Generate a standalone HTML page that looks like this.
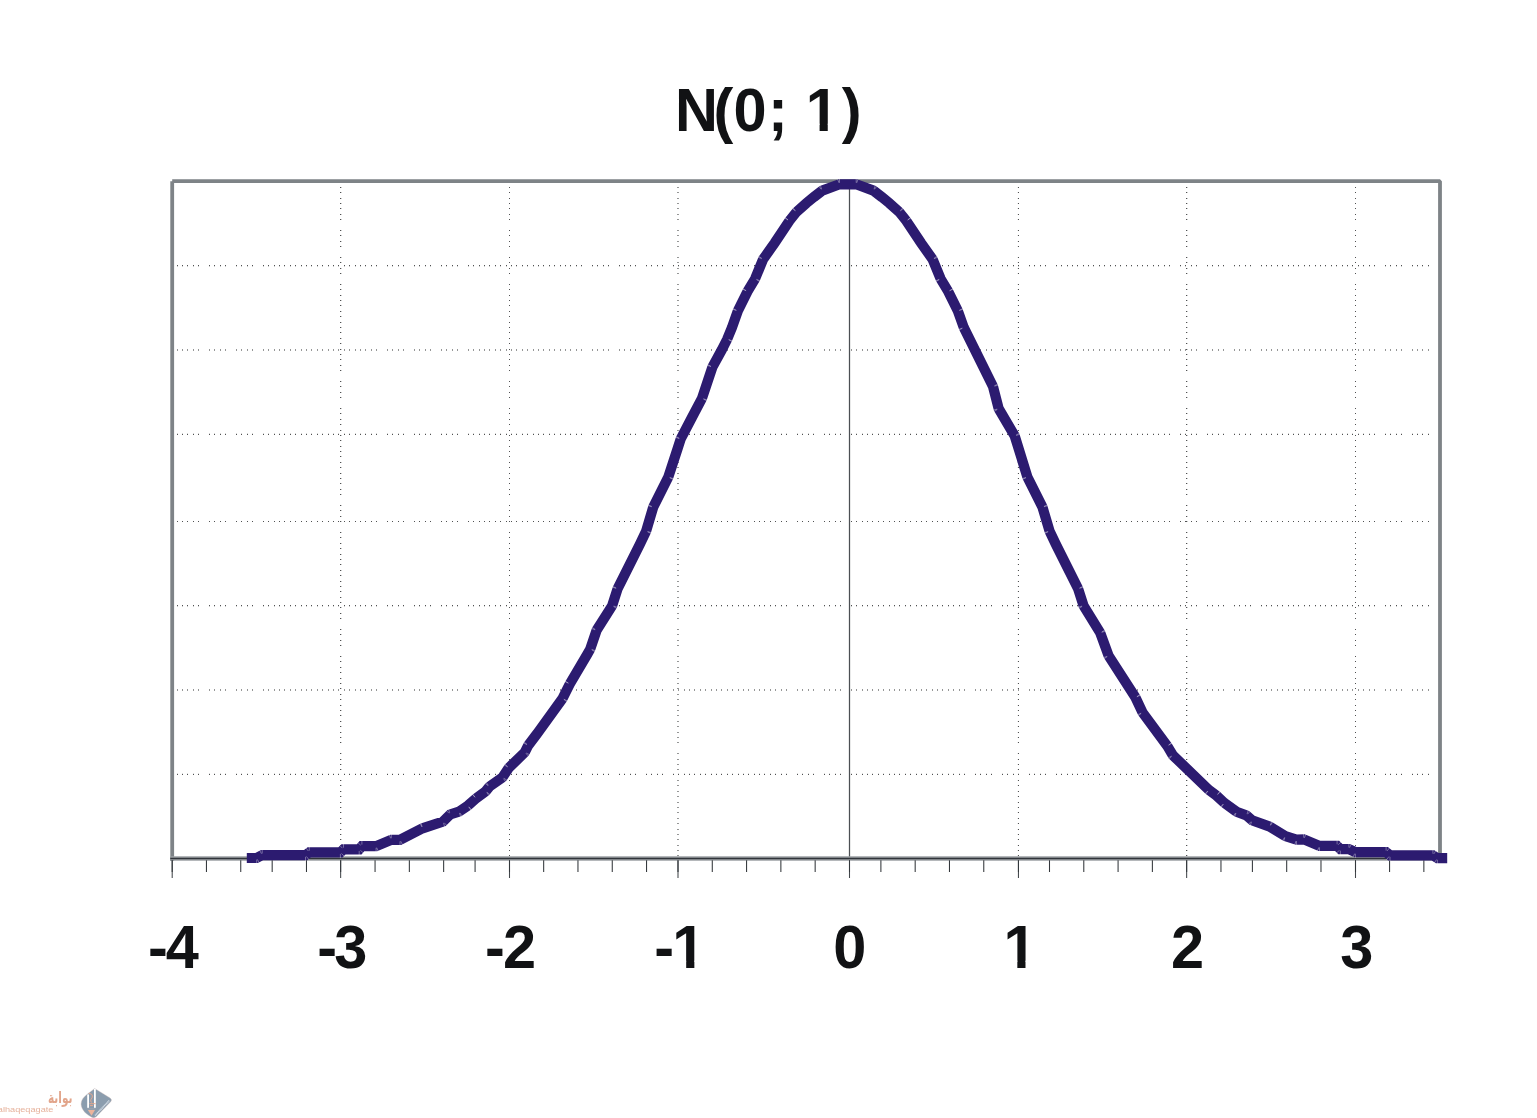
<!DOCTYPE html>
<html lang="en">
<head>
<meta charset="utf-8">
<title>N(0; 1)</title>
<style>
html,body{margin:0;padding:0;background:#fff}
body{width:1537px;height:1118px;position:relative;overflow:hidden}
svg{position:absolute;left:0;top:0;display:block}
text{font-family:"Liberation Sans",sans-serif;font-weight:bold}
.ar{font-family:"DejaVu Sans","Liberation Sans",sans-serif;font-weight:bold}
.lt{font-family:"Liberation Sans",sans-serif;font-weight:normal}
</style>
</head>
<body>
<svg width="1537" height="1118" viewBox="0 0 1537 1118">
<g id="grid" stroke="#505152" stroke-width="1" fill="none">
<path d="M177.5 265v1.3M182.5 265v1.3M187.5 265v1.3M193.5 265v1.3M198.5 265v1.3M209.5 265v1.3M214.5 265v1.3M220.5 265v1.3M225.5 265v1.3M236.5 265v1.3M241.5 265v1.3M247.5 265v1.3M252.5 265v1.3M263.5 265v1.3M268.5 265v1.3M274.5 265v1.3M279.5 265v1.3M284.5 265v1.3M290.5 265v1.3M295.5 265v1.3M301.5 265v1.3M306.5 265v1.3M311.5 265v1.3M317.5 265v1.3M322.5 265v1.3M328.5 265v1.3M333.5 265v1.3M338.5 265v1.3M344.5 265v1.3M349.5 265v1.3M355.5 265v1.3M360.5 265v1.3M365.5 265v1.3M371.5 265v1.3M376.5 265v1.3M387.5 265v1.3M392.5 265v1.3M398.5 265v1.3M403.5 265v1.3M414.5 265v1.3M419.5 265v1.3M425.5 265v1.3M430.5 265v1.3M441.5 265v1.3M446.5 265v1.3M452.5 265v1.3M457.5 265v1.3M468.5 265v1.3M473.5 265v1.3M479.5 265v1.3M484.5 265v1.3M489.5 265v1.3M495.5 265v1.3M500.5 265v1.3M506.5 265v1.3M511.5 265v1.3M516.5 265v1.3M522.5 265v1.3M527.5 265v1.3M533.5 265v1.3M538.5 265v1.3M543.5 265v1.3M549.5 265v1.3M554.5 265v1.3M560.5 265v1.3M565.5 265v1.3M570.5 265v1.3M576.5 265v1.3M581.5 265v1.3M592.5 265v1.3M597.5 265v1.3M603.5 265v1.3M608.5 265v1.3M619.5 265v1.3M624.5 265v1.3M630.5 265v1.3M635.5 265v1.3M646.5 265v1.3M651.5 265v1.3M657.5 265v1.3M662.5 265v1.3M673.5 265v1.3M678.5 265v1.3M684.5 265v1.3M689.5 265v1.3M694.5 265v1.3M700.5 265v1.3M705.5 265v1.3M711.5 265v1.3M716.5 265v1.3M721.5 265v1.3M727.5 265v1.3M732.5 265v1.3M738.5 265v1.3M743.5 265v1.3M748.5 265v1.3M754.5 265v1.3M759.5 265v1.3M764.5 265v1.3M770.5 265v1.3M775.5 265v1.3M781.5 265v1.3M786.5 265v1.3M797.5 265v1.3M802.5 265v1.3M808.5 265v1.3M813.5 265v1.3M824.5 265v1.3M829.5 265v1.3M835.5 265v1.3M840.5 265v1.3M851.5 265v1.3M856.5 265v1.3M862.5 265v1.3M867.5 265v1.3M872.5 265v1.3M878.5 265v1.3M883.5 265v1.3M889.5 265v1.3M894.5 265v1.3M899.5 265v1.3M905.5 265v1.3M910.5 265v1.3M916.5 265v1.3M921.5 265v1.3M926.5 265v1.3M932.5 265v1.3M937.5 265v1.3M942.5 265v1.3M948.5 265v1.3M953.5 265v1.3M959.5 265v1.3M964.5 265v1.3M975.5 265v1.3M980.5 265v1.3M986.5 265v1.3M991.5 265v1.3M1002.5 265v1.3M1007.5 265v1.3M1013.5 265v1.3M1018.5 265v1.3M1029.5 265v1.3M1034.5 265v1.3M1040.5 265v1.3M1045.5 265v1.3M1056.5 265v1.3M1061.5 265v1.3M1067.5 265v1.3M1072.5 265v1.3M1077.5 265v1.3M1083.5 265v1.3M1088.5 265v1.3M1093.5 265v1.3M1099.5 265v1.3M1104.5 265v1.3M1110.5 265v1.3M1115.5 265v1.3M1120.5 265v1.3M1126.5 265v1.3M1131.5 265v1.3M1137.5 265v1.3M1142.5 265v1.3M1147.5 265v1.3M1153.5 265v1.3M1158.5 265v1.3M1164.5 265v1.3M1169.5 265v1.3M1180.5 265v1.3M1185.5 265v1.3M1191.5 265v1.3M1196.5 265v1.3M1207.5 265v1.3M1212.5 265v1.3M1218.5 265v1.3M1223.5 265v1.3M1234.5 265v1.3M1239.5 265v1.3M1245.5 265v1.3M1250.5 265v1.3M1261.5 265v1.3M1266.5 265v1.3M1271.5 265v1.3M1277.5 265v1.3M1282.5 265v1.3M1288.5 265v1.3M1293.5 265v1.3M1298.5 265v1.3M1304.5 265v1.3M1309.5 265v1.3M1315.5 265v1.3M1320.5 265v1.3M1325.5 265v1.3M1331.5 265v1.3M1336.5 265v1.3M1342.5 265v1.3M1347.5 265v1.3M1352.5 265v1.3M1358.5 265v1.3M1363.5 265v1.3M1369.5 265v1.3M1374.5 265v1.3M1385.5 265v1.3M1390.5 265v1.3M1396.5 265v1.3M1401.5 265v1.3M1412.5 265v1.3M1417.5 265v1.3M1422.5 265v1.3M1428.5 265v1.3"/>
<path d="M177.5 349.4v1.2M182.5 349.4v1.2M187.5 349.4v1.2M193.5 349.4v1.2M198.5 349.4v1.2M209.5 349.4v1.2M214.5 349.4v1.2M220.5 349.4v1.2M225.5 349.4v1.2M236.5 349.4v1.2M241.5 349.4v1.2M247.5 349.4v1.2M252.5 349.4v1.2M263.5 349.4v1.2M268.5 349.4v1.2M274.5 349.4v1.2M279.5 349.4v1.2M284.5 349.4v1.2M290.5 349.4v1.2M295.5 349.4v1.2M301.5 349.4v1.2M306.5 349.4v1.2M311.5 349.4v1.2M317.5 349.4v1.2M322.5 349.4v1.2M328.5 349.4v1.2M333.5 349.4v1.2M338.5 349.4v1.2M344.5 349.4v1.2M349.5 349.4v1.2M355.5 349.4v1.2M360.5 349.4v1.2M365.5 349.4v1.2M371.5 349.4v1.2M376.5 349.4v1.2M387.5 349.4v1.2M392.5 349.4v1.2M398.5 349.4v1.2M403.5 349.4v1.2M414.5 349.4v1.2M419.5 349.4v1.2M425.5 349.4v1.2M430.5 349.4v1.2M441.5 349.4v1.2M446.5 349.4v1.2M452.5 349.4v1.2M457.5 349.4v1.2M468.5 349.4v1.2M473.5 349.4v1.2M479.5 349.4v1.2M484.5 349.4v1.2M489.5 349.4v1.2M495.5 349.4v1.2M500.5 349.4v1.2M506.5 349.4v1.2M511.5 349.4v1.2M516.5 349.4v1.2M522.5 349.4v1.2M527.5 349.4v1.2M533.5 349.4v1.2M538.5 349.4v1.2M543.5 349.4v1.2M549.5 349.4v1.2M554.5 349.4v1.2M560.5 349.4v1.2M565.5 349.4v1.2M570.5 349.4v1.2M576.5 349.4v1.2M581.5 349.4v1.2M592.5 349.4v1.2M597.5 349.4v1.2M603.5 349.4v1.2M608.5 349.4v1.2M619.5 349.4v1.2M624.5 349.4v1.2M630.5 349.4v1.2M635.5 349.4v1.2M646.5 349.4v1.2M651.5 349.4v1.2M657.5 349.4v1.2M662.5 349.4v1.2M673.5 349.4v1.2M678.5 349.4v1.2M684.5 349.4v1.2M689.5 349.4v1.2M694.5 349.4v1.2M700.5 349.4v1.2M705.5 349.4v1.2M711.5 349.4v1.2M716.5 349.4v1.2M721.5 349.4v1.2M727.5 349.4v1.2M732.5 349.4v1.2M738.5 349.4v1.2M743.5 349.4v1.2M748.5 349.4v1.2M754.5 349.4v1.2M759.5 349.4v1.2M764.5 349.4v1.2M770.5 349.4v1.2M775.5 349.4v1.2M781.5 349.4v1.2M786.5 349.4v1.2M797.5 349.4v1.2M802.5 349.4v1.2M808.5 349.4v1.2M813.5 349.4v1.2M824.5 349.4v1.2M829.5 349.4v1.2M835.5 349.4v1.2M840.5 349.4v1.2M851.5 349.4v1.2M856.5 349.4v1.2M862.5 349.4v1.2M867.5 349.4v1.2M872.5 349.4v1.2M878.5 349.4v1.2M883.5 349.4v1.2M889.5 349.4v1.2M894.5 349.4v1.2M899.5 349.4v1.2M905.5 349.4v1.2M910.5 349.4v1.2M916.5 349.4v1.2M921.5 349.4v1.2M926.5 349.4v1.2M932.5 349.4v1.2M937.5 349.4v1.2M942.5 349.4v1.2M948.5 349.4v1.2M953.5 349.4v1.2M959.5 349.4v1.2M964.5 349.4v1.2M975.5 349.4v1.2M980.5 349.4v1.2M986.5 349.4v1.2M991.5 349.4v1.2M1002.5 349.4v1.2M1007.5 349.4v1.2M1013.5 349.4v1.2M1018.5 349.4v1.2M1029.5 349.4v1.2M1034.5 349.4v1.2M1040.5 349.4v1.2M1045.5 349.4v1.2M1056.5 349.4v1.2M1061.5 349.4v1.2M1067.5 349.4v1.2M1072.5 349.4v1.2M1077.5 349.4v1.2M1083.5 349.4v1.2M1088.5 349.4v1.2M1093.5 349.4v1.2M1099.5 349.4v1.2M1104.5 349.4v1.2M1110.5 349.4v1.2M1115.5 349.4v1.2M1120.5 349.4v1.2M1126.5 349.4v1.2M1131.5 349.4v1.2M1137.5 349.4v1.2M1142.5 349.4v1.2M1147.5 349.4v1.2M1153.5 349.4v1.2M1158.5 349.4v1.2M1164.5 349.4v1.2M1169.5 349.4v1.2M1180.5 349.4v1.2M1185.5 349.4v1.2M1191.5 349.4v1.2M1196.5 349.4v1.2M1207.5 349.4v1.2M1212.5 349.4v1.2M1218.5 349.4v1.2M1223.5 349.4v1.2M1234.5 349.4v1.2M1239.5 349.4v1.2M1245.5 349.4v1.2M1250.5 349.4v1.2M1261.5 349.4v1.2M1266.5 349.4v1.2M1271.5 349.4v1.2M1277.5 349.4v1.2M1282.5 349.4v1.2M1288.5 349.4v1.2M1293.5 349.4v1.2M1298.5 349.4v1.2M1304.5 349.4v1.2M1309.5 349.4v1.2M1315.5 349.4v1.2M1320.5 349.4v1.2M1325.5 349.4v1.2M1331.5 349.4v1.2M1336.5 349.4v1.2M1342.5 349.4v1.2M1347.5 349.4v1.2M1352.5 349.4v1.2M1358.5 349.4v1.2M1363.5 349.4v1.2M1369.5 349.4v1.2M1374.5 349.4v1.2M1385.5 349.4v1.2M1390.5 349.4v1.2M1396.5 349.4v1.2M1401.5 349.4v1.2M1412.5 349.4v1.2M1417.5 349.4v1.2M1422.5 349.4v1.2M1428.5 349.4v1.2"/>
<path d="M177.5 433.75v1.25M182.5 433.75v1.25M187.5 433.75v1.25M193.5 433.75v1.25M198.5 433.75v1.25M209.5 433.75v1.25M214.5 433.75v1.25M220.5 433.75v1.25M225.5 433.75v1.25M236.5 433.75v1.25M241.5 433.75v1.25M247.5 433.75v1.25M252.5 433.75v1.25M263.5 433.75v1.25M268.5 433.75v1.25M274.5 433.75v1.25M279.5 433.75v1.25M284.5 433.75v1.25M290.5 433.75v1.25M295.5 433.75v1.25M301.5 433.75v1.25M306.5 433.75v1.25M311.5 433.75v1.25M317.5 433.75v1.25M322.5 433.75v1.25M328.5 433.75v1.25M333.5 433.75v1.25M338.5 433.75v1.25M344.5 433.75v1.25M349.5 433.75v1.25M355.5 433.75v1.25M360.5 433.75v1.25M365.5 433.75v1.25M371.5 433.75v1.25M376.5 433.75v1.25M387.5 433.75v1.25M392.5 433.75v1.25M398.5 433.75v1.25M403.5 433.75v1.25M414.5 433.75v1.25M419.5 433.75v1.25M425.5 433.75v1.25M430.5 433.75v1.25M441.5 433.75v1.25M446.5 433.75v1.25M452.5 433.75v1.25M457.5 433.75v1.25M468.5 433.75v1.25M473.5 433.75v1.25M479.5 433.75v1.25M484.5 433.75v1.25M489.5 433.75v1.25M495.5 433.75v1.25M500.5 433.75v1.25M506.5 433.75v1.25M511.5 433.75v1.25M516.5 433.75v1.25M522.5 433.75v1.25M527.5 433.75v1.25M533.5 433.75v1.25M538.5 433.75v1.25M543.5 433.75v1.25M549.5 433.75v1.25M554.5 433.75v1.25M560.5 433.75v1.25M565.5 433.75v1.25M570.5 433.75v1.25M576.5 433.75v1.25M581.5 433.75v1.25M592.5 433.75v1.25M597.5 433.75v1.25M603.5 433.75v1.25M608.5 433.75v1.25M619.5 433.75v1.25M624.5 433.75v1.25M630.5 433.75v1.25M635.5 433.75v1.25M646.5 433.75v1.25M651.5 433.75v1.25M657.5 433.75v1.25M662.5 433.75v1.25M673.5 433.75v1.25M678.5 433.75v1.25M684.5 433.75v1.25M689.5 433.75v1.25M694.5 433.75v1.25M700.5 433.75v1.25M705.5 433.75v1.25M711.5 433.75v1.25M716.5 433.75v1.25M721.5 433.75v1.25M727.5 433.75v1.25M732.5 433.75v1.25M738.5 433.75v1.25M743.5 433.75v1.25M748.5 433.75v1.25M754.5 433.75v1.25M759.5 433.75v1.25M764.5 433.75v1.25M770.5 433.75v1.25M775.5 433.75v1.25M781.5 433.75v1.25M786.5 433.75v1.25M797.5 433.75v1.25M802.5 433.75v1.25M808.5 433.75v1.25M813.5 433.75v1.25M824.5 433.75v1.25M829.5 433.75v1.25M835.5 433.75v1.25M840.5 433.75v1.25M851.5 433.75v1.25M856.5 433.75v1.25M862.5 433.75v1.25M867.5 433.75v1.25M872.5 433.75v1.25M878.5 433.75v1.25M883.5 433.75v1.25M889.5 433.75v1.25M894.5 433.75v1.25M899.5 433.75v1.25M905.5 433.75v1.25M910.5 433.75v1.25M916.5 433.75v1.25M921.5 433.75v1.25M926.5 433.75v1.25M932.5 433.75v1.25M937.5 433.75v1.25M942.5 433.75v1.25M948.5 433.75v1.25M953.5 433.75v1.25M959.5 433.75v1.25M964.5 433.75v1.25M975.5 433.75v1.25M980.5 433.75v1.25M986.5 433.75v1.25M991.5 433.75v1.25M1002.5 433.75v1.25M1007.5 433.75v1.25M1013.5 433.75v1.25M1018.5 433.75v1.25M1029.5 433.75v1.25M1034.5 433.75v1.25M1040.5 433.75v1.25M1045.5 433.75v1.25M1056.5 433.75v1.25M1061.5 433.75v1.25M1067.5 433.75v1.25M1072.5 433.75v1.25M1077.5 433.75v1.25M1083.5 433.75v1.25M1088.5 433.75v1.25M1093.5 433.75v1.25M1099.5 433.75v1.25M1104.5 433.75v1.25M1110.5 433.75v1.25M1115.5 433.75v1.25M1120.5 433.75v1.25M1126.5 433.75v1.25M1131.5 433.75v1.25M1137.5 433.75v1.25M1142.5 433.75v1.25M1147.5 433.75v1.25M1153.5 433.75v1.25M1158.5 433.75v1.25M1164.5 433.75v1.25M1169.5 433.75v1.25M1180.5 433.75v1.25M1185.5 433.75v1.25M1191.5 433.75v1.25M1196.5 433.75v1.25M1207.5 433.75v1.25M1212.5 433.75v1.25M1218.5 433.75v1.25M1223.5 433.75v1.25M1234.5 433.75v1.25M1239.5 433.75v1.25M1245.5 433.75v1.25M1250.5 433.75v1.25M1261.5 433.75v1.25M1266.5 433.75v1.25M1271.5 433.75v1.25M1277.5 433.75v1.25M1282.5 433.75v1.25M1288.5 433.75v1.25M1293.5 433.75v1.25M1298.5 433.75v1.25M1304.5 433.75v1.25M1309.5 433.75v1.25M1315.5 433.75v1.25M1320.5 433.75v1.25M1325.5 433.75v1.25M1331.5 433.75v1.25M1336.5 433.75v1.25M1342.5 433.75v1.25M1347.5 433.75v1.25M1352.5 433.75v1.25M1358.5 433.75v1.25M1363.5 433.75v1.25M1369.5 433.75v1.25M1374.5 433.75v1.25M1385.5 433.75v1.25M1390.5 433.75v1.25M1396.5 433.75v1.25M1401.5 433.75v1.25M1412.5 433.75v1.25M1417.5 433.75v1.25M1422.5 433.75v1.25M1428.5 433.75v1.25"/>
<path d="M177.5 521v1M182.5 521v1M187.5 521v1M193.5 521v1M198.5 521v1M209.5 521v1M214.5 521v1M220.5 521v1M225.5 521v1M236.5 521v1M241.5 521v1M247.5 521v1M252.5 521v1M263.5 521v1M268.5 521v1M274.5 521v1M279.5 521v1M284.5 521v1M290.5 521v1M295.5 521v1M301.5 521v1M306.5 521v1M311.5 521v1M317.5 521v1M322.5 521v1M328.5 521v1M333.5 521v1M338.5 521v1M344.5 521v1M349.5 521v1M355.5 521v1M360.5 521v1M365.5 521v1M371.5 521v1M376.5 521v1M387.5 521v1M392.5 521v1M398.5 521v1M403.5 521v1M414.5 521v1M419.5 521v1M425.5 521v1M430.5 521v1M441.5 521v1M446.5 521v1M452.5 521v1M457.5 521v1M468.5 521v1M473.5 521v1M479.5 521v1M484.5 521v1M489.5 521v1M495.5 521v1M500.5 521v1M506.5 521v1M511.5 521v1M516.5 521v1M522.5 521v1M527.5 521v1M533.5 521v1M538.5 521v1M543.5 521v1M549.5 521v1M554.5 521v1M560.5 521v1M565.5 521v1M570.5 521v1M576.5 521v1M581.5 521v1M592.5 521v1M597.5 521v1M603.5 521v1M608.5 521v1M619.5 521v1M624.5 521v1M630.5 521v1M635.5 521v1M646.5 521v1M651.5 521v1M657.5 521v1M662.5 521v1M673.5 521v1M678.5 521v1M684.5 521v1M689.5 521v1M694.5 521v1M700.5 521v1M705.5 521v1M711.5 521v1M716.5 521v1M721.5 521v1M727.5 521v1M732.5 521v1M738.5 521v1M743.5 521v1M748.5 521v1M754.5 521v1M759.5 521v1M764.5 521v1M770.5 521v1M775.5 521v1M781.5 521v1M786.5 521v1M797.5 521v1M802.5 521v1M808.5 521v1M813.5 521v1M824.5 521v1M829.5 521v1M835.5 521v1M840.5 521v1M851.5 521v1M856.5 521v1M862.5 521v1M867.5 521v1M872.5 521v1M878.5 521v1M883.5 521v1M889.5 521v1M894.5 521v1M899.5 521v1M905.5 521v1M910.5 521v1M916.5 521v1M921.5 521v1M926.5 521v1M932.5 521v1M937.5 521v1M942.5 521v1M948.5 521v1M953.5 521v1M959.5 521v1M964.5 521v1M975.5 521v1M980.5 521v1M986.5 521v1M991.5 521v1M1002.5 521v1M1007.5 521v1M1013.5 521v1M1018.5 521v1M1029.5 521v1M1034.5 521v1M1040.5 521v1M1045.5 521v1M1056.5 521v1M1061.5 521v1M1067.5 521v1M1072.5 521v1M1077.5 521v1M1083.5 521v1M1088.5 521v1M1093.5 521v1M1099.5 521v1M1104.5 521v1M1110.5 521v1M1115.5 521v1M1120.5 521v1M1126.5 521v1M1131.5 521v1M1137.5 521v1M1142.5 521v1M1147.5 521v1M1153.5 521v1M1158.5 521v1M1164.5 521v1M1169.5 521v1M1180.5 521v1M1185.5 521v1M1191.5 521v1M1196.5 521v1M1207.5 521v1M1212.5 521v1M1218.5 521v1M1223.5 521v1M1234.5 521v1M1239.5 521v1M1245.5 521v1M1250.5 521v1M1261.5 521v1M1266.5 521v1M1271.5 521v1M1277.5 521v1M1282.5 521v1M1288.5 521v1M1293.5 521v1M1298.5 521v1M1304.5 521v1M1309.5 521v1M1315.5 521v1M1320.5 521v1M1325.5 521v1M1331.5 521v1M1336.5 521v1M1342.5 521v1M1347.5 521v1M1352.5 521v1M1358.5 521v1M1363.5 521v1M1369.5 521v1M1374.5 521v1M1385.5 521v1M1390.5 521v1M1396.5 521v1M1401.5 521v1M1412.5 521v1M1417.5 521v1M1422.5 521v1M1428.5 521v1"/>
<path d="M177.5 605v1.3M182.5 605v1.3M187.5 605v1.3M193.5 605v1.3M198.5 605v1.3M209.5 605v1.3M214.5 605v1.3M220.5 605v1.3M225.5 605v1.3M236.5 605v1.3M241.5 605v1.3M247.5 605v1.3M252.5 605v1.3M263.5 605v1.3M268.5 605v1.3M274.5 605v1.3M279.5 605v1.3M284.5 605v1.3M290.5 605v1.3M295.5 605v1.3M301.5 605v1.3M306.5 605v1.3M311.5 605v1.3M317.5 605v1.3M322.5 605v1.3M328.5 605v1.3M333.5 605v1.3M338.5 605v1.3M344.5 605v1.3M349.5 605v1.3M355.5 605v1.3M360.5 605v1.3M365.5 605v1.3M371.5 605v1.3M376.5 605v1.3M387.5 605v1.3M392.5 605v1.3M398.5 605v1.3M403.5 605v1.3M414.5 605v1.3M419.5 605v1.3M425.5 605v1.3M430.5 605v1.3M441.5 605v1.3M446.5 605v1.3M452.5 605v1.3M457.5 605v1.3M468.5 605v1.3M473.5 605v1.3M479.5 605v1.3M484.5 605v1.3M489.5 605v1.3M495.5 605v1.3M500.5 605v1.3M506.5 605v1.3M511.5 605v1.3M516.5 605v1.3M522.5 605v1.3M527.5 605v1.3M533.5 605v1.3M538.5 605v1.3M543.5 605v1.3M549.5 605v1.3M554.5 605v1.3M560.5 605v1.3M565.5 605v1.3M570.5 605v1.3M576.5 605v1.3M581.5 605v1.3M592.5 605v1.3M597.5 605v1.3M603.5 605v1.3M608.5 605v1.3M619.5 605v1.3M624.5 605v1.3M630.5 605v1.3M635.5 605v1.3M646.5 605v1.3M651.5 605v1.3M657.5 605v1.3M662.5 605v1.3M673.5 605v1.3M678.5 605v1.3M684.5 605v1.3M689.5 605v1.3M694.5 605v1.3M700.5 605v1.3M705.5 605v1.3M711.5 605v1.3M716.5 605v1.3M721.5 605v1.3M727.5 605v1.3M732.5 605v1.3M738.5 605v1.3M743.5 605v1.3M748.5 605v1.3M754.5 605v1.3M759.5 605v1.3M764.5 605v1.3M770.5 605v1.3M775.5 605v1.3M781.5 605v1.3M786.5 605v1.3M797.5 605v1.3M802.5 605v1.3M808.5 605v1.3M813.5 605v1.3M824.5 605v1.3M829.5 605v1.3M835.5 605v1.3M840.5 605v1.3M851.5 605v1.3M856.5 605v1.3M862.5 605v1.3M867.5 605v1.3M872.5 605v1.3M878.5 605v1.3M883.5 605v1.3M889.5 605v1.3M894.5 605v1.3M899.5 605v1.3M905.5 605v1.3M910.5 605v1.3M916.5 605v1.3M921.5 605v1.3M926.5 605v1.3M932.5 605v1.3M937.5 605v1.3M942.5 605v1.3M948.5 605v1.3M953.5 605v1.3M959.5 605v1.3M964.5 605v1.3M975.5 605v1.3M980.5 605v1.3M986.5 605v1.3M991.5 605v1.3M1002.5 605v1.3M1007.5 605v1.3M1013.5 605v1.3M1018.5 605v1.3M1029.5 605v1.3M1034.5 605v1.3M1040.5 605v1.3M1045.5 605v1.3M1056.5 605v1.3M1061.5 605v1.3M1067.5 605v1.3M1072.5 605v1.3M1077.5 605v1.3M1083.5 605v1.3M1088.5 605v1.3M1093.5 605v1.3M1099.5 605v1.3M1104.5 605v1.3M1110.5 605v1.3M1115.5 605v1.3M1120.5 605v1.3M1126.5 605v1.3M1131.5 605v1.3M1137.5 605v1.3M1142.5 605v1.3M1147.5 605v1.3M1153.5 605v1.3M1158.5 605v1.3M1164.5 605v1.3M1169.5 605v1.3M1180.5 605v1.3M1185.5 605v1.3M1191.5 605v1.3M1196.5 605v1.3M1207.5 605v1.3M1212.5 605v1.3M1218.5 605v1.3M1223.5 605v1.3M1234.5 605v1.3M1239.5 605v1.3M1245.5 605v1.3M1250.5 605v1.3M1261.5 605v1.3M1266.5 605v1.3M1271.5 605v1.3M1277.5 605v1.3M1282.5 605v1.3M1288.5 605v1.3M1293.5 605v1.3M1298.5 605v1.3M1304.5 605v1.3M1309.5 605v1.3M1315.5 605v1.3M1320.5 605v1.3M1325.5 605v1.3M1331.5 605v1.3M1336.5 605v1.3M1342.5 605v1.3M1347.5 605v1.3M1352.5 605v1.3M1358.5 605v1.3M1363.5 605v1.3M1369.5 605v1.3M1374.5 605v1.3M1385.5 605v1.3M1390.5 605v1.3M1396.5 605v1.3M1401.5 605v1.3M1412.5 605v1.3M1417.5 605v1.3M1422.5 605v1.3M1428.5 605v1.3"/>
<path d="M177.5 689.4v1.2M182.5 689.4v1.2M187.5 689.4v1.2M193.5 689.4v1.2M198.5 689.4v1.2M209.5 689.4v1.2M214.5 689.4v1.2M220.5 689.4v1.2M225.5 689.4v1.2M236.5 689.4v1.2M241.5 689.4v1.2M247.5 689.4v1.2M252.5 689.4v1.2M263.5 689.4v1.2M268.5 689.4v1.2M274.5 689.4v1.2M279.5 689.4v1.2M284.5 689.4v1.2M290.5 689.4v1.2M295.5 689.4v1.2M301.5 689.4v1.2M306.5 689.4v1.2M311.5 689.4v1.2M317.5 689.4v1.2M322.5 689.4v1.2M328.5 689.4v1.2M333.5 689.4v1.2M338.5 689.4v1.2M344.5 689.4v1.2M349.5 689.4v1.2M355.5 689.4v1.2M360.5 689.4v1.2M365.5 689.4v1.2M371.5 689.4v1.2M376.5 689.4v1.2M387.5 689.4v1.2M392.5 689.4v1.2M398.5 689.4v1.2M403.5 689.4v1.2M414.5 689.4v1.2M419.5 689.4v1.2M425.5 689.4v1.2M430.5 689.4v1.2M441.5 689.4v1.2M446.5 689.4v1.2M452.5 689.4v1.2M457.5 689.4v1.2M468.5 689.4v1.2M473.5 689.4v1.2M479.5 689.4v1.2M484.5 689.4v1.2M489.5 689.4v1.2M495.5 689.4v1.2M500.5 689.4v1.2M506.5 689.4v1.2M511.5 689.4v1.2M516.5 689.4v1.2M522.5 689.4v1.2M527.5 689.4v1.2M533.5 689.4v1.2M538.5 689.4v1.2M543.5 689.4v1.2M549.5 689.4v1.2M554.5 689.4v1.2M560.5 689.4v1.2M565.5 689.4v1.2M570.5 689.4v1.2M576.5 689.4v1.2M581.5 689.4v1.2M592.5 689.4v1.2M597.5 689.4v1.2M603.5 689.4v1.2M608.5 689.4v1.2M619.5 689.4v1.2M624.5 689.4v1.2M630.5 689.4v1.2M635.5 689.4v1.2M646.5 689.4v1.2M651.5 689.4v1.2M657.5 689.4v1.2M662.5 689.4v1.2M673.5 689.4v1.2M678.5 689.4v1.2M684.5 689.4v1.2M689.5 689.4v1.2M694.5 689.4v1.2M700.5 689.4v1.2M705.5 689.4v1.2M711.5 689.4v1.2M716.5 689.4v1.2M721.5 689.4v1.2M727.5 689.4v1.2M732.5 689.4v1.2M738.5 689.4v1.2M743.5 689.4v1.2M748.5 689.4v1.2M754.5 689.4v1.2M759.5 689.4v1.2M764.5 689.4v1.2M770.5 689.4v1.2M775.5 689.4v1.2M781.5 689.4v1.2M786.5 689.4v1.2M797.5 689.4v1.2M802.5 689.4v1.2M808.5 689.4v1.2M813.5 689.4v1.2M824.5 689.4v1.2M829.5 689.4v1.2M835.5 689.4v1.2M840.5 689.4v1.2M851.5 689.4v1.2M856.5 689.4v1.2M862.5 689.4v1.2M867.5 689.4v1.2M872.5 689.4v1.2M878.5 689.4v1.2M883.5 689.4v1.2M889.5 689.4v1.2M894.5 689.4v1.2M899.5 689.4v1.2M905.5 689.4v1.2M910.5 689.4v1.2M916.5 689.4v1.2M921.5 689.4v1.2M926.5 689.4v1.2M932.5 689.4v1.2M937.5 689.4v1.2M942.5 689.4v1.2M948.5 689.4v1.2M953.5 689.4v1.2M959.5 689.4v1.2M964.5 689.4v1.2M975.5 689.4v1.2M980.5 689.4v1.2M986.5 689.4v1.2M991.5 689.4v1.2M1002.5 689.4v1.2M1007.5 689.4v1.2M1013.5 689.4v1.2M1018.5 689.4v1.2M1029.5 689.4v1.2M1034.5 689.4v1.2M1040.5 689.4v1.2M1045.5 689.4v1.2M1056.5 689.4v1.2M1061.5 689.4v1.2M1067.5 689.4v1.2M1072.5 689.4v1.2M1077.5 689.4v1.2M1083.5 689.4v1.2M1088.5 689.4v1.2M1093.5 689.4v1.2M1099.5 689.4v1.2M1104.5 689.4v1.2M1110.5 689.4v1.2M1115.5 689.4v1.2M1120.5 689.4v1.2M1126.5 689.4v1.2M1131.5 689.4v1.2M1137.5 689.4v1.2M1142.5 689.4v1.2M1147.5 689.4v1.2M1153.5 689.4v1.2M1158.5 689.4v1.2M1164.5 689.4v1.2M1169.5 689.4v1.2M1180.5 689.4v1.2M1185.5 689.4v1.2M1191.5 689.4v1.2M1196.5 689.4v1.2M1207.5 689.4v1.2M1212.5 689.4v1.2M1218.5 689.4v1.2M1223.5 689.4v1.2M1234.5 689.4v1.2M1239.5 689.4v1.2M1245.5 689.4v1.2M1250.5 689.4v1.2M1261.5 689.4v1.2M1266.5 689.4v1.2M1271.5 689.4v1.2M1277.5 689.4v1.2M1282.5 689.4v1.2M1288.5 689.4v1.2M1293.5 689.4v1.2M1298.5 689.4v1.2M1304.5 689.4v1.2M1309.5 689.4v1.2M1315.5 689.4v1.2M1320.5 689.4v1.2M1325.5 689.4v1.2M1331.5 689.4v1.2M1336.5 689.4v1.2M1342.5 689.4v1.2M1347.5 689.4v1.2M1352.5 689.4v1.2M1358.5 689.4v1.2M1363.5 689.4v1.2M1369.5 689.4v1.2M1374.5 689.4v1.2M1385.5 689.4v1.2M1390.5 689.4v1.2M1396.5 689.4v1.2M1401.5 689.4v1.2M1412.5 689.4v1.2M1417.5 689.4v1.2M1422.5 689.4v1.2M1428.5 689.4v1.2"/>
<path d="M177.5 773.8v1.2M182.5 773.8v1.2M187.5 773.8v1.2M193.5 773.8v1.2M198.5 773.8v1.2M209.5 773.8v1.2M214.5 773.8v1.2M220.5 773.8v1.2M225.5 773.8v1.2M236.5 773.8v1.2M241.5 773.8v1.2M247.5 773.8v1.2M252.5 773.8v1.2M263.5 773.8v1.2M268.5 773.8v1.2M274.5 773.8v1.2M279.5 773.8v1.2M284.5 773.8v1.2M290.5 773.8v1.2M295.5 773.8v1.2M301.5 773.8v1.2M306.5 773.8v1.2M311.5 773.8v1.2M317.5 773.8v1.2M322.5 773.8v1.2M328.5 773.8v1.2M333.5 773.8v1.2M338.5 773.8v1.2M344.5 773.8v1.2M349.5 773.8v1.2M355.5 773.8v1.2M360.5 773.8v1.2M365.5 773.8v1.2M371.5 773.8v1.2M376.5 773.8v1.2M387.5 773.8v1.2M392.5 773.8v1.2M398.5 773.8v1.2M403.5 773.8v1.2M414.5 773.8v1.2M419.5 773.8v1.2M425.5 773.8v1.2M430.5 773.8v1.2M441.5 773.8v1.2M446.5 773.8v1.2M452.5 773.8v1.2M457.5 773.8v1.2M468.5 773.8v1.2M473.5 773.8v1.2M479.5 773.8v1.2M484.5 773.8v1.2M489.5 773.8v1.2M495.5 773.8v1.2M500.5 773.8v1.2M506.5 773.8v1.2M511.5 773.8v1.2M516.5 773.8v1.2M522.5 773.8v1.2M527.5 773.8v1.2M533.5 773.8v1.2M538.5 773.8v1.2M543.5 773.8v1.2M549.5 773.8v1.2M554.5 773.8v1.2M560.5 773.8v1.2M565.5 773.8v1.2M570.5 773.8v1.2M576.5 773.8v1.2M581.5 773.8v1.2M592.5 773.8v1.2M597.5 773.8v1.2M603.5 773.8v1.2M608.5 773.8v1.2M619.5 773.8v1.2M624.5 773.8v1.2M630.5 773.8v1.2M635.5 773.8v1.2M646.5 773.8v1.2M651.5 773.8v1.2M657.5 773.8v1.2M662.5 773.8v1.2M673.5 773.8v1.2M678.5 773.8v1.2M684.5 773.8v1.2M689.5 773.8v1.2M694.5 773.8v1.2M700.5 773.8v1.2M705.5 773.8v1.2M711.5 773.8v1.2M716.5 773.8v1.2M721.5 773.8v1.2M727.5 773.8v1.2M732.5 773.8v1.2M738.5 773.8v1.2M743.5 773.8v1.2M748.5 773.8v1.2M754.5 773.8v1.2M759.5 773.8v1.2M764.5 773.8v1.2M770.5 773.8v1.2M775.5 773.8v1.2M781.5 773.8v1.2M786.5 773.8v1.2M797.5 773.8v1.2M802.5 773.8v1.2M808.5 773.8v1.2M813.5 773.8v1.2M824.5 773.8v1.2M829.5 773.8v1.2M835.5 773.8v1.2M840.5 773.8v1.2M851.5 773.8v1.2M856.5 773.8v1.2M862.5 773.8v1.2M867.5 773.8v1.2M872.5 773.8v1.2M878.5 773.8v1.2M883.5 773.8v1.2M889.5 773.8v1.2M894.5 773.8v1.2M899.5 773.8v1.2M905.5 773.8v1.2M910.5 773.8v1.2M916.5 773.8v1.2M921.5 773.8v1.2M926.5 773.8v1.2M932.5 773.8v1.2M937.5 773.8v1.2M942.5 773.8v1.2M948.5 773.8v1.2M953.5 773.8v1.2M959.5 773.8v1.2M964.5 773.8v1.2M975.5 773.8v1.2M980.5 773.8v1.2M986.5 773.8v1.2M991.5 773.8v1.2M1002.5 773.8v1.2M1007.5 773.8v1.2M1013.5 773.8v1.2M1018.5 773.8v1.2M1029.5 773.8v1.2M1034.5 773.8v1.2M1040.5 773.8v1.2M1045.5 773.8v1.2M1056.5 773.8v1.2M1061.5 773.8v1.2M1067.5 773.8v1.2M1072.5 773.8v1.2M1077.5 773.8v1.2M1083.5 773.8v1.2M1088.5 773.8v1.2M1093.5 773.8v1.2M1099.5 773.8v1.2M1104.5 773.8v1.2M1110.5 773.8v1.2M1115.5 773.8v1.2M1120.5 773.8v1.2M1126.5 773.8v1.2M1131.5 773.8v1.2M1137.5 773.8v1.2M1142.5 773.8v1.2M1147.5 773.8v1.2M1153.5 773.8v1.2M1158.5 773.8v1.2M1164.5 773.8v1.2M1169.5 773.8v1.2M1180.5 773.8v1.2M1185.5 773.8v1.2M1191.5 773.8v1.2M1196.5 773.8v1.2M1207.5 773.8v1.2M1212.5 773.8v1.2M1218.5 773.8v1.2M1223.5 773.8v1.2M1234.5 773.8v1.2M1239.5 773.8v1.2M1245.5 773.8v1.2M1250.5 773.8v1.2M1261.5 773.8v1.2M1266.5 773.8v1.2M1271.5 773.8v1.2M1277.5 773.8v1.2M1282.5 773.8v1.2M1288.5 773.8v1.2M1293.5 773.8v1.2M1298.5 773.8v1.2M1304.5 773.8v1.2M1309.5 773.8v1.2M1315.5 773.8v1.2M1320.5 773.8v1.2M1325.5 773.8v1.2M1331.5 773.8v1.2M1336.5 773.8v1.2M1342.5 773.8v1.2M1347.5 773.8v1.2M1352.5 773.8v1.2M1358.5 773.8v1.2M1363.5 773.8v1.2M1369.5 773.8v1.2M1374.5 773.8v1.2M1385.5 773.8v1.2M1390.5 773.8v1.2M1396.5 773.8v1.2M1401.5 773.8v1.2M1412.5 773.8v1.2M1417.5 773.8v1.2M1422.5 773.8v1.2M1428.5 773.8v1.2"/>
<path d="M340 187.5h1.3M340 192.5h1.3M340 198.5h1.3M340 203.5h1.3M340 208.5h1.3M340 214.5h1.3M340 219.5h1.3M340 230.5h1.3M340 235.5h1.3M340 241.5h1.3M340 246.5h1.3M340 257.5h1.3M340 262.5h1.3M340 268.5h1.3M340 273.5h1.3M340 284.5h1.3M340 289.5h1.3M340 295.5h1.3M340 300.5h1.3M340 305.5h1.3M340 311.5h1.3M340 316.5h1.3M340 322.5h1.3M340 327.5h1.3M340 332.5h1.3M340 338.5h1.3M340 343.5h1.3M340 349.5h1.3M340 354.5h1.3M340 359.5h1.3M340 365.5h1.3M340 370.5h1.3M340 381.5h1.3M340 386.5h1.3M340 392.5h1.3M340 397.5h1.3M340 408.5h1.3M340 413.5h1.3M340 419.5h1.3M340 424.5h1.3M340 430.5h1.3M340 435.5h1.3M340 440.5h1.3M340 446.5h1.3M340 451.5h1.3M340 456.5h1.3M340 462.5h1.3M340 467.5h1.3M340 473.5h1.3M340 478.5h1.3M340 483.5h1.3M340 489.5h1.3M340 494.5h1.3M340 505.5h1.3M340 510.5h1.3M340 516.5h1.3M340 521.5h1.3M340 532.5h1.3M340 537.5h1.3M340 543.5h1.3M340 548.5h1.3M340 554.5h1.3M340 559.5h1.3M340 564.5h1.3M340 570.5h1.3M340 575.5h1.3M340 581.5h1.3M340 586.5h1.3M340 591.5h1.3M340 597.5h1.3M340 602.5h1.3M340 607.5h1.3M340 613.5h1.3M340 618.5h1.3M340 629.5h1.3M340 634.5h1.3M340 640.5h1.3M340 645.5h1.3M340 656.5h1.3M340 661.5h1.3M340 667.5h1.3M340 672.5h1.3M340 678.5h1.3M340 683.5h1.3M340 688.5h1.3M340 694.5h1.3M340 699.5h1.3M340 705.5h1.3M340 710.5h1.3M340 715.5h1.3M340 721.5h1.3M340 726.5h1.3M340 732.5h1.3M340 737.5h1.3M340 742.5h1.3M340 753.5h1.3M340 759.5h1.3M340 764.5h1.3M340 769.5h1.3M340 780.5h1.3M340 785.5h1.3M340 791.5h1.3M340 796.5h1.3M340 802.5h1.3M340 807.5h1.3M340 812.5h1.3M340 818.5h1.3M340 823.5h1.3M340 829.5h1.3M340 834.5h1.3M340 839.5h1.3M340 845.5h1.3M340 850.5h1.3M340 855.5h1.3"/>
<path d="M509 187.5h1M509 192.5h1M509 198.5h1M509 203.5h1M509 208.5h1M509 214.5h1M509 219.5h1M509 230.5h1M509 235.5h1M509 241.5h1M509 246.5h1M509 257.5h1M509 262.5h1M509 268.5h1M509 273.5h1M509 284.5h1M509 289.5h1M509 295.5h1M509 300.5h1M509 305.5h1M509 311.5h1M509 316.5h1M509 322.5h1M509 327.5h1M509 332.5h1M509 338.5h1M509 343.5h1M509 349.5h1M509 354.5h1M509 359.5h1M509 365.5h1M509 370.5h1M509 381.5h1M509 386.5h1M509 392.5h1M509 397.5h1M509 408.5h1M509 413.5h1M509 419.5h1M509 424.5h1M509 430.5h1M509 435.5h1M509 440.5h1M509 446.5h1M509 451.5h1M509 456.5h1M509 462.5h1M509 467.5h1M509 473.5h1M509 478.5h1M509 483.5h1M509 489.5h1M509 494.5h1M509 505.5h1M509 510.5h1M509 516.5h1M509 521.5h1M509 532.5h1M509 537.5h1M509 543.5h1M509 548.5h1M509 554.5h1M509 559.5h1M509 564.5h1M509 570.5h1M509 575.5h1M509 581.5h1M509 586.5h1M509 591.5h1M509 597.5h1M509 602.5h1M509 607.5h1M509 613.5h1M509 618.5h1M509 629.5h1M509 634.5h1M509 640.5h1M509 645.5h1M509 656.5h1M509 661.5h1M509 667.5h1M509 672.5h1M509 678.5h1M509 683.5h1M509 688.5h1M509 694.5h1M509 699.5h1M509 705.5h1M509 710.5h1M509 715.5h1M509 721.5h1M509 726.5h1M509 732.5h1M509 737.5h1M509 742.5h1M509 753.5h1M509 759.5h1M509 764.5h1M509 769.5h1M509 780.5h1M509 785.5h1M509 791.5h1M509 796.5h1M509 802.5h1M509 807.5h1M509 812.5h1M509 818.5h1M509 823.5h1M509 829.5h1M509 834.5h1M509 839.5h1M509 845.5h1M509 850.5h1M509 855.5h1"/>
<path d="M677.4 187.5h1.2M677.4 192.5h1.2M677.4 198.5h1.2M677.4 203.5h1.2M677.4 208.5h1.2M677.4 214.5h1.2M677.4 219.5h1.2M677.4 230.5h1.2M677.4 235.5h1.2M677.4 241.5h1.2M677.4 246.5h1.2M677.4 257.5h1.2M677.4 262.5h1.2M677.4 268.5h1.2M677.4 273.5h1.2M677.4 284.5h1.2M677.4 289.5h1.2M677.4 295.5h1.2M677.4 300.5h1.2M677.4 305.5h1.2M677.4 311.5h1.2M677.4 316.5h1.2M677.4 322.5h1.2M677.4 327.5h1.2M677.4 332.5h1.2M677.4 338.5h1.2M677.4 343.5h1.2M677.4 349.5h1.2M677.4 354.5h1.2M677.4 359.5h1.2M677.4 365.5h1.2M677.4 370.5h1.2M677.4 381.5h1.2M677.4 386.5h1.2M677.4 392.5h1.2M677.4 397.5h1.2M677.4 408.5h1.2M677.4 413.5h1.2M677.4 419.5h1.2M677.4 424.5h1.2M677.4 430.5h1.2M677.4 435.5h1.2M677.4 440.5h1.2M677.4 446.5h1.2M677.4 451.5h1.2M677.4 456.5h1.2M677.4 462.5h1.2M677.4 467.5h1.2M677.4 473.5h1.2M677.4 478.5h1.2M677.4 483.5h1.2M677.4 489.5h1.2M677.4 494.5h1.2M677.4 505.5h1.2M677.4 510.5h1.2M677.4 516.5h1.2M677.4 521.5h1.2M677.4 532.5h1.2M677.4 537.5h1.2M677.4 543.5h1.2M677.4 548.5h1.2M677.4 554.5h1.2M677.4 559.5h1.2M677.4 564.5h1.2M677.4 570.5h1.2M677.4 575.5h1.2M677.4 581.5h1.2M677.4 586.5h1.2M677.4 591.5h1.2M677.4 597.5h1.2M677.4 602.5h1.2M677.4 607.5h1.2M677.4 613.5h1.2M677.4 618.5h1.2M677.4 629.5h1.2M677.4 634.5h1.2M677.4 640.5h1.2M677.4 645.5h1.2M677.4 656.5h1.2M677.4 661.5h1.2M677.4 667.5h1.2M677.4 672.5h1.2M677.4 678.5h1.2M677.4 683.5h1.2M677.4 688.5h1.2M677.4 694.5h1.2M677.4 699.5h1.2M677.4 705.5h1.2M677.4 710.5h1.2M677.4 715.5h1.2M677.4 721.5h1.2M677.4 726.5h1.2M677.4 732.5h1.2M677.4 737.5h1.2M677.4 742.5h1.2M677.4 753.5h1.2M677.4 759.5h1.2M677.4 764.5h1.2M677.4 769.5h1.2M677.4 780.5h1.2M677.4 785.5h1.2M677.4 791.5h1.2M677.4 796.5h1.2M677.4 802.5h1.2M677.4 807.5h1.2M677.4 812.5h1.2M677.4 818.5h1.2M677.4 823.5h1.2M677.4 829.5h1.2M677.4 834.5h1.2M677.4 839.5h1.2M677.4 845.5h1.2M677.4 850.5h1.2M677.4 855.5h1.2"/>
<path d="M1017.9 187.5h1.1M1017.9 192.5h1.1M1017.9 198.5h1.1M1017.9 203.5h1.1M1017.9 208.5h1.1M1017.9 214.5h1.1M1017.9 219.5h1.1M1017.9 230.5h1.1M1017.9 235.5h1.1M1017.9 241.5h1.1M1017.9 246.5h1.1M1017.9 257.5h1.1M1017.9 262.5h1.1M1017.9 268.5h1.1M1017.9 273.5h1.1M1017.9 284.5h1.1M1017.9 289.5h1.1M1017.9 295.5h1.1M1017.9 300.5h1.1M1017.9 305.5h1.1M1017.9 311.5h1.1M1017.9 316.5h1.1M1017.9 322.5h1.1M1017.9 327.5h1.1M1017.9 332.5h1.1M1017.9 338.5h1.1M1017.9 343.5h1.1M1017.9 349.5h1.1M1017.9 354.5h1.1M1017.9 359.5h1.1M1017.9 365.5h1.1M1017.9 370.5h1.1M1017.9 381.5h1.1M1017.9 386.5h1.1M1017.9 392.5h1.1M1017.9 397.5h1.1M1017.9 408.5h1.1M1017.9 413.5h1.1M1017.9 419.5h1.1M1017.9 424.5h1.1M1017.9 430.5h1.1M1017.9 435.5h1.1M1017.9 440.5h1.1M1017.9 446.5h1.1M1017.9 451.5h1.1M1017.9 456.5h1.1M1017.9 462.5h1.1M1017.9 467.5h1.1M1017.9 473.5h1.1M1017.9 478.5h1.1M1017.9 483.5h1.1M1017.9 489.5h1.1M1017.9 494.5h1.1M1017.9 505.5h1.1M1017.9 510.5h1.1M1017.9 516.5h1.1M1017.9 521.5h1.1M1017.9 532.5h1.1M1017.9 537.5h1.1M1017.9 543.5h1.1M1017.9 548.5h1.1M1017.9 554.5h1.1M1017.9 559.5h1.1M1017.9 564.5h1.1M1017.9 570.5h1.1M1017.9 575.5h1.1M1017.9 581.5h1.1M1017.9 586.5h1.1M1017.9 591.5h1.1M1017.9 597.5h1.1M1017.9 602.5h1.1M1017.9 607.5h1.1M1017.9 613.5h1.1M1017.9 618.5h1.1M1017.9 629.5h1.1M1017.9 634.5h1.1M1017.9 640.5h1.1M1017.9 645.5h1.1M1017.9 656.5h1.1M1017.9 661.5h1.1M1017.9 667.5h1.1M1017.9 672.5h1.1M1017.9 678.5h1.1M1017.9 683.5h1.1M1017.9 688.5h1.1M1017.9 694.5h1.1M1017.9 699.5h1.1M1017.9 705.5h1.1M1017.9 710.5h1.1M1017.9 715.5h1.1M1017.9 721.5h1.1M1017.9 726.5h1.1M1017.9 732.5h1.1M1017.9 737.5h1.1M1017.9 742.5h1.1M1017.9 753.5h1.1M1017.9 759.5h1.1M1017.9 764.5h1.1M1017.9 769.5h1.1M1017.9 780.5h1.1M1017.9 785.5h1.1M1017.9 791.5h1.1M1017.9 796.5h1.1M1017.9 802.5h1.1M1017.9 807.5h1.1M1017.9 812.5h1.1M1017.9 818.5h1.1M1017.9 823.5h1.1M1017.9 829.5h1.1M1017.9 834.5h1.1M1017.9 839.5h1.1M1017.9 845.5h1.1M1017.9 850.5h1.1M1017.9 855.5h1.1"/>
<path d="M1186 187.5h1.3M1186 192.5h1.3M1186 198.5h1.3M1186 203.5h1.3M1186 208.5h1.3M1186 214.5h1.3M1186 219.5h1.3M1186 230.5h1.3M1186 235.5h1.3M1186 241.5h1.3M1186 246.5h1.3M1186 257.5h1.3M1186 262.5h1.3M1186 268.5h1.3M1186 273.5h1.3M1186 284.5h1.3M1186 289.5h1.3M1186 295.5h1.3M1186 300.5h1.3M1186 305.5h1.3M1186 311.5h1.3M1186 316.5h1.3M1186 322.5h1.3M1186 327.5h1.3M1186 332.5h1.3M1186 338.5h1.3M1186 343.5h1.3M1186 349.5h1.3M1186 354.5h1.3M1186 359.5h1.3M1186 365.5h1.3M1186 370.5h1.3M1186 381.5h1.3M1186 386.5h1.3M1186 392.5h1.3M1186 397.5h1.3M1186 408.5h1.3M1186 413.5h1.3M1186 419.5h1.3M1186 424.5h1.3M1186 430.5h1.3M1186 435.5h1.3M1186 440.5h1.3M1186 446.5h1.3M1186 451.5h1.3M1186 456.5h1.3M1186 462.5h1.3M1186 467.5h1.3M1186 473.5h1.3M1186 478.5h1.3M1186 483.5h1.3M1186 489.5h1.3M1186 494.5h1.3M1186 505.5h1.3M1186 510.5h1.3M1186 516.5h1.3M1186 521.5h1.3M1186 532.5h1.3M1186 537.5h1.3M1186 543.5h1.3M1186 548.5h1.3M1186 554.5h1.3M1186 559.5h1.3M1186 564.5h1.3M1186 570.5h1.3M1186 575.5h1.3M1186 581.5h1.3M1186 586.5h1.3M1186 591.5h1.3M1186 597.5h1.3M1186 602.5h1.3M1186 607.5h1.3M1186 613.5h1.3M1186 618.5h1.3M1186 629.5h1.3M1186 634.5h1.3M1186 640.5h1.3M1186 645.5h1.3M1186 656.5h1.3M1186 661.5h1.3M1186 667.5h1.3M1186 672.5h1.3M1186 678.5h1.3M1186 683.5h1.3M1186 688.5h1.3M1186 694.5h1.3M1186 699.5h1.3M1186 705.5h1.3M1186 710.5h1.3M1186 715.5h1.3M1186 721.5h1.3M1186 726.5h1.3M1186 732.5h1.3M1186 737.5h1.3M1186 742.5h1.3M1186 753.5h1.3M1186 759.5h1.3M1186 764.5h1.3M1186 769.5h1.3M1186 780.5h1.3M1186 785.5h1.3M1186 791.5h1.3M1186 796.5h1.3M1186 802.5h1.3M1186 807.5h1.3M1186 812.5h1.3M1186 818.5h1.3M1186 823.5h1.3M1186 829.5h1.3M1186 834.5h1.3M1186 839.5h1.3M1186 845.5h1.3M1186 850.5h1.3M1186 855.5h1.3"/>
<path d="M1355 187.5h1M1355 192.5h1M1355 198.5h1M1355 203.5h1M1355 208.5h1M1355 214.5h1M1355 219.5h1M1355 230.5h1M1355 235.5h1M1355 241.5h1M1355 246.5h1M1355 257.5h1M1355 262.5h1M1355 268.5h1M1355 273.5h1M1355 284.5h1M1355 289.5h1M1355 295.5h1M1355 300.5h1M1355 305.5h1M1355 311.5h1M1355 316.5h1M1355 322.5h1M1355 327.5h1M1355 332.5h1M1355 338.5h1M1355 343.5h1M1355 349.5h1M1355 354.5h1M1355 359.5h1M1355 365.5h1M1355 370.5h1M1355 381.5h1M1355 386.5h1M1355 392.5h1M1355 397.5h1M1355 408.5h1M1355 413.5h1M1355 419.5h1M1355 424.5h1M1355 430.5h1M1355 435.5h1M1355 440.5h1M1355 446.5h1M1355 451.5h1M1355 456.5h1M1355 462.5h1M1355 467.5h1M1355 473.5h1M1355 478.5h1M1355 483.5h1M1355 489.5h1M1355 494.5h1M1355 505.5h1M1355 510.5h1M1355 516.5h1M1355 521.5h1M1355 532.5h1M1355 537.5h1M1355 543.5h1M1355 548.5h1M1355 554.5h1M1355 559.5h1M1355 564.5h1M1355 570.5h1M1355 575.5h1M1355 581.5h1M1355 586.5h1M1355 591.5h1M1355 597.5h1M1355 602.5h1M1355 607.5h1M1355 613.5h1M1355 618.5h1M1355 629.5h1M1355 634.5h1M1355 640.5h1M1355 645.5h1M1355 656.5h1M1355 661.5h1M1355 667.5h1M1355 672.5h1M1355 678.5h1M1355 683.5h1M1355 688.5h1M1355 694.5h1M1355 699.5h1M1355 705.5h1M1355 710.5h1M1355 715.5h1M1355 721.5h1M1355 726.5h1M1355 732.5h1M1355 737.5h1M1355 742.5h1M1355 753.5h1M1355 759.5h1M1355 764.5h1M1355 769.5h1M1355 780.5h1M1355 785.5h1M1355 791.5h1M1355 796.5h1M1355 802.5h1M1355 807.5h1M1355 812.5h1M1355 818.5h1M1355 823.5h1M1355 829.5h1M1355 834.5h1M1355 839.5h1M1355 845.5h1M1355 850.5h1M1355 855.5h1"/>
</g>
<line x1="849.5" x2="849.5" y1="183" y2="858" stroke="#4c4f53" stroke-width="1.25"/>
<g id="frame" fill="none" stroke="#7e8387" stroke-width="3.8">
<path d="M172.2 860.9V181.2"/>
<path d="M172.2 181.2H1440V858.5" stroke-linejoin="bevel"/>
</g>
<line x1="170.3" x2="1441.9" y1="858.5" y2="858.5" stroke="#9ca0a4" stroke-width="4.4"/>
<line x1="170.3" x2="1441.9" y1="858.5" y2="858.5" stroke="#30343a" stroke-width="1.6"/>
<path d="M172.2 860.2V878M340.65 860.2V878M509.5 860.2V878M678 860.2V878M849.5 860.2V878M1018.45 860.2V878M1186.65 860.2V878M1355.5 860.2V878" stroke="#43474b" stroke-width="1.05" fill="none"/>
<path d="M172.2 860.2V872M206.45 860.2V872M240.75 860.2V872M272.18 860.2V872M306.48 860.2V872M340.65 860.2V872M375.06 860.2V872M409.35 860.2V872M443.65 860.2V872M475.08 860.2V872M509.5 860.2V872M543.67 860.2V872M577.96 860.2V872M612.26 860.2V872M646.55 860.2V872M678 860.2V872M712.28 860.2V872M746.57 860.2V872M780.87 860.2V872M815.16 860.2V872M849.5 860.2V872M880.89 860.2V872M915.18 860.2V872M949.47 860.2V872M983.77 860.2V872M1018.45 860.2V872M1049.5 860.2V872M1083.79 860.2V872M1118.08 860.2V872M1152.38 860.2V872M1186.65 860.2V872M1220.96 860.2V872M1252.4 860.2V872M1286.69 860.2V872M1320.98 860.2V872M1355.5 860.2V872M1389.57 860.2V872M1423.86 860.2V872" stroke="#33373b" stroke-width="1.05" fill="none"/>
<path id="curve" d="M246.8 858L256.7 858L262.2 855.1L305.5 855.2L309.3 852.3L340.4 852.3L343.5 849.3L359.2 849.3L361.9 846.2L376.1 846.2L391.3 839.8L400 839.8L422.6 828.3L443 821.6L450.2 814.4L459 811.6L467.8 805.6L476 798.5L485.7 791.2L489.3 786.7L502.5 777.3L508.8 767.9L524.8 752.3L528.3 745.3L537.1 733.7L562.5 698.5L569.8 683.9L587.1 654.6L590.3 649L596.6 630.3L612.2 605.6L617.6 588.8L640 544L646.1 531.1L653.2 507.2L668.3 477L677.6 448.7L680.7 439L691.7 417.8L702 398.3L712.4 367.1L721.7 350L727.3 339L731.9 327.6L737.8 311L747.5 291.5L755.1 278.8L763.1 259.3L774.7 242.9L789.3 220.9L796.5 211.9L806.4 203.1L813.8 197.1L822.2 190.6L839.5 184.3L856.2 184.3L873.5 190.6L881.9 197.1L889.3 203.1L899.2 211.9L906.4 220.9L921 242.9L932.6 259.3L940.6 278.8L948.2 291.5L957.9 311L963.8 327.6L993 386.5L998.7 408.7L1014.7 435.9L1027.4 477L1042.5 507.2L1049.6 531.1L1055.7 544L1078.1 588.8L1083.5 605.6L1100.3 632.9L1108.6 655.8L1135.5 697.5L1142.5 712.5L1167.3 746L1172.8 755.2L1208.8 789.9L1216.6 795.7L1224.3 802.9L1236.5 811.7L1246.5 815.4L1252.1 820.4L1269.8 826.7L1285.3 836.1L1296.4 839.6L1303.8 839.3L1319.5 845.9L1337.1 845.9L1340.4 849.1L1348.9 849.1L1355.4 852.2L1386.1 852.2L1390 855.3L1432.9 855.3L1437.4 858.2L1447.2 858.2" fill="none" stroke="#2c1b70" stroke-width="10.2" stroke-linecap="butt" stroke-linejoin="miter" stroke-miterlimit="4"/>
<path id="seams" d="M256.7 859.6L256.7 863.8M257.45 859.42L259.41 863.13M261.45 853.68L259.49 849.97M262.2 853.5L262.21 849.3M305.5 856.8L305.49 861M306.47 856.47L309.02 859.81M308.33 851.03L305.78 847.69M309.3 850.7L309.3 846.5M340.4 853.9L340.4 858.1M341.51 853.45L344.43 856.47M342.39 848.15L339.47 845.13M343.5 847.7L343.5 843.5M359.2 850.9L359.2 855.1M360.41 850.35L363.57 853.11M360.69 845.15L357.53 842.39M361.9 844.6L361.9 840.4M376.1 847.8L376.1 852M376.72 847.67L378.35 851.55M390.68 838.33L389.05 834.45M391.3 838.2L391.3 834M400 841.4L400 845.6M400.73 841.23L402.63 844.97M421.87 826.87L419.97 823.13M422.1 826.78L420.79 822.79M443.5 823.12L444.81 827.11M444.13 822.73L447.1 825.7M449.07 813.27L446.1 810.3M449.71 812.88L448.44 808.87M459.49 813.12L460.76 817.13M459.9 812.92L462.27 816.39M468.7 806.92L471.07 810.39M468.85 806.81L471.6 809.98M474.95 797.29L472.2 794.12M475.04 797.22L472.51 793.87M486.66 792.48L489.19 795.83M486.95 792.2L490.23 794.82M488.05 785.7L484.77 783.08M488.37 785.4L485.94 781.98M503.43 778.6L505.86 782.02M503.83 778.19L507.32 780.53M507.47 767.01L503.98 764.67M507.68 766.75L504.75 763.75M525.92 753.45L528.85 756.45M526.23 753.02L529.99 754.89M526.87 744.58L523.11 742.71M527.03 744.33L523.68 741.79M563.8 699.44L567.2 701.89M563.93 699.22L567.69 701.09M568.37 683.18L564.61 681.31M568.42 683.09L564.81 680.95M591.69 649.79L595.34 651.88M591.82 649.51L595.8 650.85M595.08 629.79L591.1 628.45M595.25 629.45L591.7 627.2M613.55 606.45L617.1 608.7M613.72 606.09L617.72 607.37M616.08 588.31L612.08 587.03M616.17 588.08L612.41 586.21M647.55 531.78L651.34 533.58M647.63 531.56L651.66 532.75M651.67 506.74L647.64 505.55M651.77 506.48L648.01 504.61M669.73 477.72L673.49 479.59M669.82 477.5L673.81 478.81M679.18 438.51L675.18 437.23M679.28 438.26L675.55 436.33M703.41 399.05L707.13 401.01M703.52 398.81L707.5 400.13M710.88 366.59L706.9 365.27M710.99 366.34L707.3 364.33M728.73 339.73L732.47 341.63M728.78 339.6L732.68 341.17M736.29 310.46L732.33 309.06M736.37 310.29L732.61 308.42M746.07 290.79L742.31 288.92M746.13 290.68L742.52 288.52M756.47 279.62L760.08 281.78M756.58 279.41L760.47 281M761.62 258.69L757.73 257.1M761.79 258.38L758.36 255.95M787.97 220.02L784.47 217.69M788.05 219.9L784.77 217.28M795.25 210.9L791.97 208.28M795.44 210.7L792.65 207.57M821.22 189.33L818.65 186.01M821.65 189.1L820.22 185.15M838.95 182.8L837.52 178.85M839.5 182.7L839.5 178.5M856.2 182.7L856.2 178.5M856.75 182.8L858.18 178.85M874.05 189.1L875.48 185.15M874.48 189.33L877.05 186.01M900.26 210.7L903.05 207.57M900.45 210.9L903.73 208.28M907.65 219.9L910.93 217.28M907.73 220.02L911.23 217.69M933.91 258.38L937.34 255.95M934.08 258.69L937.97 257.1M939.12 279.41L935.23 281M939.23 279.62L935.62 281.78M949.57 290.68L953.18 288.52M949.63 290.79L953.39 288.92M959.33 310.29L963.09 308.42M959.41 310.46L963.37 309.06M962.29 328.14L958.33 329.54M962.37 328.31L958.6 330.18M994.43 385.79L998.2 383.92M994.55 386.1L998.62 385.06M997.15 409.1L993.08 410.14M997.32 409.51L993.7 411.64M1016.08 435.09L1019.7 432.96M1016.23 435.43L1020.24 434.19M1025.87 477.47L1021.86 478.71M1025.97 477.72L1022.21 479.59M1043.93 506.48L1047.69 504.61M1044.03 506.74L1048.06 505.55M1048.07 531.56L1044.04 532.75M1048.15 531.78L1044.36 533.58M1079.53 588.08L1083.29 586.21M1079.62 588.31L1083.62 587.03M1081.98 606.09L1077.98 607.37M1082.14 606.44L1078.56 608.64M1101.66 632.06L1105.24 629.86M1101.8 632.35L1105.75 630.92M1107.1 656.35L1103.15 657.78M1107.26 656.67L1103.73 658.94M1136.84 696.63L1140.37 694.36M1136.95 696.82L1140.76 695.05M1141.05 713.18L1137.24 714.95M1141.21 713.45L1137.84 715.95M1168.59 745.05L1171.96 742.55M1168.67 745.18L1172.28 743.02M1171.43 756.02L1167.82 758.18M1171.69 756.35L1168.77 759.38M1207.69 791.05L1204.77 794.08M1207.85 791.18L1205.34 794.55M1217.55 794.42L1220.06 791.05M1217.69 794.53L1220.56 791.46M1223.21 804.07L1220.34 807.14M1223.36 804.2L1220.91 807.6M1235.56 813L1233.11 816.4M1235.94 813.2L1234.49 817.14M1247.06 813.9L1248.51 809.96M1247.57 814.21L1250.36 811.07M1251.03 821.59L1248.24 824.73M1251.56 821.91L1250.16 825.86M1270.34 825.19L1271.74 821.24M1270.63 825.33L1272.81 821.74M1284.47 837.47L1282.29 841.06M1284.82 837.63L1283.56 841.63M1295.92 841.13L1294.66 845.13M1296.46 841.2L1296.63 845.4M1303.74 837.7L1303.57 833.5M1304.42 837.83L1306.05 833.95M1318.88 847.37L1317.25 851.25M1319.5 847.5L1319.5 851.7M1337.1 844.3L1337.1 840.1M1338.21 844.75L1341.14 841.74M1339.29 850.25L1336.36 853.26M1340.4 850.7L1340.4 854.9M1348.9 847.5L1348.9 843.3M1349.59 847.66L1351.4 843.86M1354.71 853.64L1352.9 857.44M1355.4 853.8L1355.4 858M1386.1 850.6L1386.1 846.4M1387.1 850.95L1389.71 847.66M1389 856.55L1386.39 859.84M1390 856.9L1390 861.1M1432.9 853.7L1432.9 849.5M1433.77 853.96L1436.04 850.42M1436.53 859.54L1434.26 863.08M1437.4 859.8L1437.4 864" stroke="#fff" stroke-opacity=".7" stroke-width=".5" fill="none"/>
<clipPath id="c1"><rect x="0" y="0" width="1537" height="123.72"/><rect x="0" y="122.72" width="808.61" height="40"/><rect x="819.59" y="122.72" width="8.16" height="40"/><rect x="839.4" y="122.72" width="697.6" height="40"/></clipPath>
<g clip-path="url(#c1)"><text x="675 713.4 733.55 767.9 787.6 805.7 841.7" y="126.667" font-size="59.5" fill="#111214" transform="scale(1,1.035)">N(0; 1)</text></g>
<text x="148.07 165.66" y="935.362" font-size="59.5" fill="#111214" transform="scale(1,1.035)">-4</text>
<text x="317.2 334.15" y="935.362" font-size="59.5" fill="#111214" transform="scale(1,1.035)">-3</text>
<text x="485.1 502.96" y="935.362" font-size="59.5" fill="#111214" transform="scale(1,1.035)">-2</text>
<clipPath id="c2"><rect x="0" y="0" width="1537" height="960.72"/><rect x="0" y="959.72" width="675.21" height="40"/><rect x="686.19" y="959.72" width="8.16" height="40"/><rect x="706" y="959.72" width="831" height="40"/></clipPath>
<g clip-path="url(#c2)"><text x="654.2 672.3" y="935.362" font-size="59.5" fill="#111214" transform="scale(1,1.035)">-1</text></g>
<text x="833.35" y="935.362" font-size="59.5" fill="#111214" transform="scale(1,1.035)">0</text>
<clipPath id="c3"><rect x="0" y="0" width="1537" height="960.72"/><rect x="0" y="959.72" width="1006.35" height="40"/><rect x="1017.33" y="959.72" width="8.16" height="40"/><rect x="1037.14" y="959.72" width="499.86" height="40"/></clipPath>
<g clip-path="url(#c3)"><text x="1003.44" y="935.362" font-size="59.5" fill="#111214" transform="scale(1,1.035)">1</text></g>
<text x="1171.1" y="935.362" font-size="59.5" fill="#111214" transform="scale(1,1.035)">2</text>
<text x="1340.3" y="935.362" font-size="59.5" fill="#111214" transform="scale(1,1.035)">3</text>
<g id="wm">
<path d="M94.69 1088.38L110.2 1098.1Q112.3 1099.6 110.9 1101.5L96.2 1116.7Q93.6 1118.6 91.2 1116.9C86 1114.4 81.5 1109.6 81.1 1104.5C80.9 1100.4 83.5 1097.3 86.5 1094.8Z" fill="#8b9dae" stroke="#d9c4bd" stroke-width=".5" stroke-opacity=".7"/>
<rect x="87.2" y="1094.4" width="1.8" height="13.4" fill="#fff"/>
<rect x="94" y="1088.8" width="1.8" height="19" fill="#fff"/>
<path d="M88.8 1093.3q3.6 .4 3.6 2.6t-1.4 3.4q-.8 1.6 .5 3.2M89.4 1103.7h6.2M90 1105.6h3" stroke="#e9a98d" stroke-width=".95" fill="none"/>
<path d="M87.3 1108.9h8.2" stroke="#a9a9b0" stroke-width=".8" fill="none"/>
<path d="M87.9 1109.9h7.1l-3.5 5.8z" fill="#ecb49c"/>
<path d="M94.9 1115.6L109.2 1100.6" stroke="#d3dce5" stroke-width="1.5" stroke-dasharray="1.3 .35" fill="none"/>
<text class="ar" transform="translate(72.5,1102.9) scale(.64,.97)" x="0" y="0" font-size="16.5" direction="rtl" fill="#e2a58b">بوابة</text>
<text class="lt" x="-2.2" y="1111.7" font-size="6.6" textLength="55.6" lengthAdjust="spacingAndGlyphs" fill="#e6b29c">alhaqeqagate</text>
</g>
</svg>
</body>
</html>
